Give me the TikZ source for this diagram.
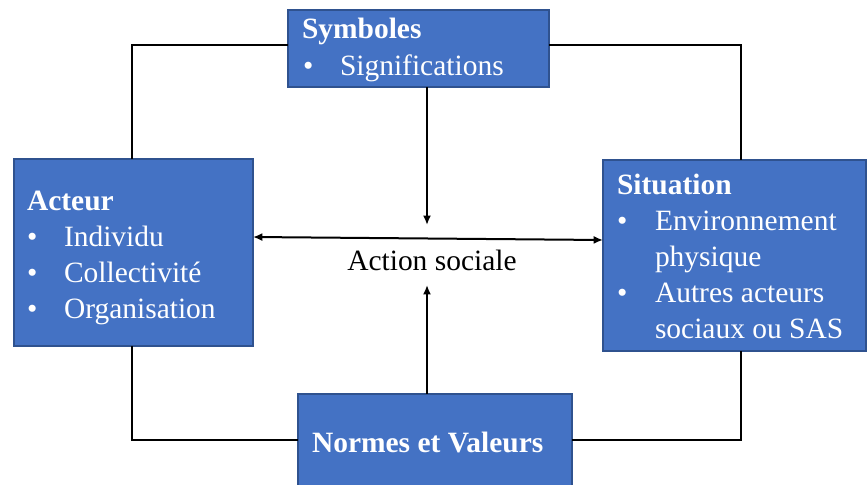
\documentclass[tikz,border=0pt]{standalone}
\usepackage{fontspec}
\setmainfont{Liberation Serif}
\usetikzlibrary{arrows.meta}
\definecolor{boxfill}{HTML}{4472C4}
\definecolor{boxline}{HTML}{2F528F}
\tikzset{
  card/.style={draw=boxline, line width=0.8pt, fill=boxfill, inner sep=0pt, outer sep=0pt},
  txt/.style={anchor=base west, inner sep=0pt, outer sep=0pt, text=white,
    font=\fontsize{22.1}{27}\selectfont},
  hd/.style={txt, font=\fontsize{22.1}{27}\selectfont\bfseries},
  frame/.style={line width=1.5pt, black},
  link/.style={line width=1.5pt, black, -{Latex[length=7pt, width=6pt]}},
  both/.style={line width=1.5pt, black, {Latex[length=7pt, width=6pt]}-{Latex[length=7pt, width=6pt]}}
}
\begin{document}
\begin{tikzpicture}[x=0.75pt, y=-0.75pt]
\clip (0,0) rectangle (867,485);
\fill[white] (0,0) rectangle (867,485);

% boxes (pixel grid, y downwards)
\node[card, minimum width=261*0.75pt, minimum height=77*0.75pt] (symb) at (418.5,48.5) {};
\node[card, minimum width=239*0.75pt, minimum height=187*0.75pt] (acteur) at (133.5,252.5) {};
\node[card, minimum width=263*0.75pt, minimum height=191*0.75pt] (situ) at (734.5,255.5) {};
\node[card, minimum width=274*0.75pt, minimum height=100*0.75pt] (normes) at (435,444) {};

% outer frame corners
\coordinate (tl) at (132,45);
\coordinate (tr) at (741,45);
\coordinate (bl) at (132,440);
\coordinate (br) at (741,440);

\draw[frame] (acteur.north -| tl) -- (tl) -- (symb.west |- tl);
\draw[frame] (symb.east |- tr) -- (tr) -- (situ.north -| tr);
\draw[frame] (acteur.south -| bl) -- (bl) -- (normes.west |- bl);
\draw[frame] (normes.east |- br) -- (br) -- (situ.south -| br);

% action sociale and its three arrows
\node[anchor=base west, inner sep=0pt, font=\fontsize{22.1}{27}\selectfont] (action) at (347,270) {Action sociale};
\coordinate (up) at (427,225);
\coordinate (dn) at (427,285);
\draw[link] (symb.south -| up) -- (up);
\draw[link] (normes.north -| dn) -- (dn);
\coordinate (la) at (253,237);
\coordinate (ra) at (603,240);
\draw[both] (la) -- (ra);

% box texts
\node[hd] (symbt) at (302,39) {Symboles};
\node[txt] (symbb) at (303,75) {•};
\node[txt] (symb1) at (340,75) {Significations};

\node[hd] (actt) at (27,210) {Acteur};
\node[txt] (actb1) at (27,246) {•};
\node[txt] (act1) at (64,246) {Individu};
\node[txt] (actb2) at (27,282) {•};
\node[txt] (act2) at (64,282) {Collectivité};
\node[txt] (actb3) at (27,318) {•};
\node[txt] (act3) at (64,318) {Organisation};

\node[hd] (situt) at (617,194) {Situation};
\node[txt] (situb1) at (617,230) {•};
\node[txt] (situ1) at (655,230) {Environnement};
\node[txt] (situ2) at (655,266) {physique};
\node[txt] (situb2) at (617,302) {•};
\node[txt] (situ3) at (655,302) {Autres acteurs};
\node[txt] (situ4) at (655,338) {sociaux ou SAS};

\node[hd] (normt) at (312,452) {Normes et Valeurs};
\end{tikzpicture}
\end{document}
